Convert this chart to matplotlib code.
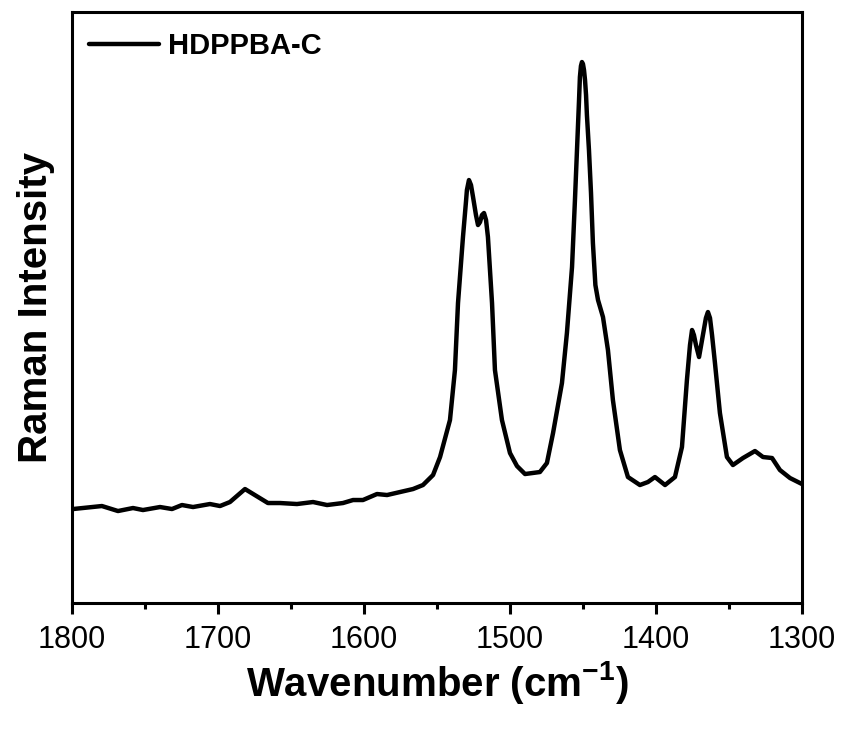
import numpy as np
import matplotlib
matplotlib.use("Agg")
import matplotlib.pyplot as plt

plt.rcParams['font.family'] = ['Liberation Sans', 'DejaVu Sans']
plt.rcParams['mathtext.fontset'] = 'custom'
plt.rcParams['mathtext.rm'] = 'Liberation Sans:bold'
plt.rcParams['mathtext.bf'] = 'Liberation Sans:bold'
plt.rcParams['mathtext.default'] = 'bf'

# Raman spectrum (wavenumber in cm-1, intensity in a.u.)
wavenumber = [1800.0, 1799.3, 1779.5, 1768.5, 1758.2, 1751.4, 1739.7, 1731.5, 1724.7,
              1717.1, 1705.5, 1698.6, 1691.8, 1681.5, 1665.8, 1657.5, 1645.9, 1634.9,
              1625.3, 1614.4, 1607.5, 1600.7, 1591.1, 1584.2, 1575.3, 1566.4, 1559.6,
              1552.7, 1547.9, 1541.1, 1537.7, 1535.6, 1532.2, 1530.1, 1529.5, 1528.1,
              1526.7, 1525.3, 1523.3, 1521.9, 1520.5, 1519.2, 1517.8, 1516.4, 1515.1,
              1512.3, 1510.3, 1505.5, 1500.0, 1495.2, 1489.7,
              1479.5, 1474.7, 1470.5, 1464.4, 1461.0, 1457.5, 1455.5, 1452.7, 1452.1,
              1451.4, 1450.7, 1450.0, 1449.3, 1448.6, 1447.9, 1447.3,
              1445.9, 1444.5, 1443.2, 1441.5, 1439.7, 1436.3, 1432.9, 1429.5, 1424.7,
              1419.2, 1411.0, 1405.5, 1400.7, 1393.8, 1387.0, 1382.2, 1378.8, 1376.7,
              1375.3, 1374.0, 1372.6, 1370.5, 1365.8, 1364.4, 1363.0, 1361.6,
              1359.6, 1356.2, 1351.4, 1347.3, 1340.4, 1332.2, 1326.7,
              1320.5, 1315.1, 1308.2, 1300.0]
intensity = [93, 94, 97, 92, 95, 93, 96, 94, 98,
             96, 99, 97, 101, 114, 100, 100, 99, 101,
             98, 100, 103, 103, 109, 108, 111, 114, 118,
             128, 146, 183, 233, 300, 366, 402, 413, 423,
             418, 406, 388, 378, 381, 388, 390, 383, 366,
             300, 233, 183, 150, 137, 129,
             131, 140, 170, 220, 270, 336, 403, 503, 526,
             537, 541, 539, 533, 523, 508, 488,
             453, 410, 360, 318, 303, 286, 253, 203, 153,
             126, 118, 121, 126, 118, 126, 156, 223, 258,
             273, 268, 258, 246, 285, 291, 285, 268,
             240, 190, 146, 138, 145, 152, 146,
             145, 133, 125, 119]

xticks = [1800, 1700, 1600, 1500, 1400, 1300]

fig = plt.figure(figsize=(8.44, 7.29), dpi=100)
ax = fig.add_axes([0.0853, 0.1728, 0.8649, 0.8107])

ax.plot(wavenumber, intensity, color='black', lw=3.2, solid_joinstyle='round',
        solid_capstyle='round', label='HDPPBA-C')

ax.set_xlim(1800, 1300)
ax.set_ylim(0, 591)
ax.set_xticks(xticks)
ax.set_xticks(np.arange(1750, 1300, -100), minor=True)
ax.set_yticks([])
ax.tick_params(axis='x', which='major', direction='out', length=8, width=2.2,
               labelsize=22, pad=8)
ax.tick_params(axis='x', which='minor', direction='out', length=4, width=2.2)
for s in ax.spines.values():
    s.set_linewidth(2.2)

ax.set_xlabel(r'Wavenumber (cm$^{-1}$)', fontsize=29, fontweight='bold', labelpad=3)
ax.set_ylabel('Raman Intensity', fontsize=29, fontweight='bold', labelpad=12)

leg = ax.legend(loc='upper left', frameon=False, fontsize=21, handlelength=2.4,
                bbox_to_anchor=(-0.005, 1.0), borderaxespad=0.3, handletextpad=0.3)
for t in leg.get_texts():
    t.set_fontweight('bold')

fig.savefig('out.png', dpi=100)
